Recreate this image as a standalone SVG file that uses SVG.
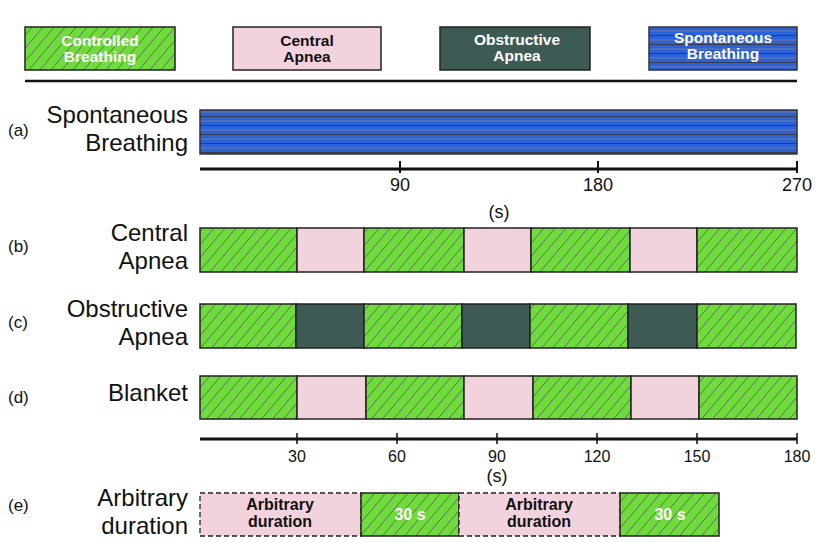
<svg xmlns="http://www.w3.org/2000/svg" width="830" height="542" viewBox="0 0 830 542">
<defs>
<pattern id="hatch" patternUnits="userSpaceOnUse" width="11" height="13">
<rect width="11" height="13" fill="#70db3c"/>
<path d="M0,13 L11,0 M-1,1 L0,0 M11,13 L12,12" stroke="#555" stroke-width="0.8"/>
</pattern>
<pattern id="spont" patternUnits="userSpaceOnUse" width="10" height="9">
<rect width="10" height="9" fill="#2962dc"/>
<line x1="0" y1="4" x2="10" y2="4" stroke="#7a7a88" stroke-width="1"/>
<line x1="0" y1="8.5" x2="10" y2="8.5" stroke="#3a3a48" stroke-width="1"/>
</pattern>
</defs>
<style>
.c{fill:url(#hatch);stroke:#222;stroke-width:1.5}
.p{fill:#f2d3dd;stroke:#222;stroke-width:1.5}
.pd{fill:#f2d3dd;stroke:#222;stroke-width:1.3;stroke-dasharray:5 3}
.o{fill:#3d5a54;stroke:#222;stroke-width:1.5}
.s{fill:url(#spont);stroke:#333;stroke-width:1.5}
.lg{font-family:"Liberation Sans",Arial,sans-serif;font-weight:bold;font-size:15.5px;text-anchor:middle}
.w{fill:#fff}
.k{fill:#111}
.rl{font-family:"Liberation Sans",Arial,sans-serif;font-size:24px;text-anchor:end;fill:#111}
.lt{font-family:"Liberation Sans",Arial,sans-serif;font-size:17px;fill:#111}
.ax{font-family:"Liberation Sans",Arial,sans-serif;font-size:18px;text-anchor:middle;fill:#111}
.ax2{font-family:"Liberation Sans",Arial,sans-serif;font-size:16px;text-anchor:middle;fill:#111}
.ins{font-family:"Liberation Sans",Arial,sans-serif;font-weight:bold;font-size:16px;text-anchor:middle}
</style>

<g id="legend-controlled">
<rect class="c" x="25" y="27" width="150" height="43"/>
<text class="lg w" x="100" y="45.5">Controlled</text>
<text class="lg w" x="100" y="62">Breathing</text>
</g>
<g id="legend-central">
<rect class="p" x="233" y="27" width="148" height="43"/>
<text class="lg k" x="307" y="45.5">Central</text>
<text class="lg k" x="307" y="61.5">Apnea</text>
</g>
<g id="legend-obstructive">
<rect class="o" x="440" y="27" width="150" height="43"/>
<text class="lg w" x="517" y="45">Obstructive</text>
<text class="lg w" x="517" y="61">Apnea</text>
</g>
<g id="legend-spontaneous">
<rect class="s" x="649" y="27" width="148" height="43"/>
<text class="lg w" x="723" y="43">Spontaneous</text>
<text class="lg w" x="723" y="59">Breathing</text>
</g>
<line x1="25" y1="81" x2="797" y2="81" stroke="#111" stroke-width="2.5"/>

<g id="row-a">
<text class="lt" x="8" y="136">(a)</text>
<text class="rl" x="188" y="123">Spontaneous</text>
<text class="rl" x="188" y="151">Breathing</text>
<rect class="s" x="200" y="110" width="597" height="44"/>
</g>
<g id="axis-top">
<line x1="200" y1="169" x2="797" y2="169" stroke="#111" stroke-width="3"/>
<path d="M400,161V173M598,161V173M797,161V173" stroke="#111" stroke-width="2"/>
<text class="ax" x="400" y="191">90</text>
<text class="ax" x="598" y="191">180</text>
<text class="ax" x="797" y="191">270</text>
<text class="ax" x="499" y="218" font-size="19">(s)</text>
</g>

<g id="row-b">
<text class="lt" x="8" y="252">(b)</text>
<text class="rl" x="188" y="241">Central</text>
<text class="rl" x="188" y="269">Apnea</text>
<rect class="c" x="200" y="228" width="97" height="44"/>
<rect class="p" x="297" y="228" width="67" height="44"/>
<rect class="c" x="364" y="228" width="100" height="44"/>
<rect class="p" x="464" y="228" width="67" height="44"/>
<rect class="c" x="531" y="228" width="99" height="44"/>
<rect class="p" x="630" y="228" width="67" height="44"/>
<rect class="c" x="697" y="228" width="100" height="44"/>
</g>

<g id="row-c">
<text class="lt" x="8" y="328">(c)</text>
<text class="rl" x="188" y="317">Obstructive</text>
<text class="rl" x="188" y="345">Apnea</text>
<rect class="c" x="200" y="304" width="96" height="44"/>
<rect class="o" x="296" y="304" width="68" height="44"/>
<rect class="c" x="364" y="304" width="98" height="44"/>
<rect class="o" x="462" y="304" width="68" height="44"/>
<rect class="c" x="530" y="304" width="98" height="44"/>
<rect class="o" x="628" y="304" width="69" height="44"/>
<rect class="c" x="697" y="304" width="99" height="44"/>
</g>

<g id="row-d">
<text class="lt" x="8" y="403">(d)</text>
<text class="rl" x="188" y="401">Blanket</text>
<rect class="c" x="200" y="376" width="97" height="43"/>
<rect class="p" x="297" y="376" width="69" height="43"/>
<rect class="c" x="366" y="376" width="98" height="43"/>
<rect class="p" x="464" y="376" width="69" height="43"/>
<rect class="c" x="533" y="376" width="98" height="43"/>
<rect class="p" x="631" y="376" width="68" height="43"/>
<rect class="c" x="699" y="376" width="98" height="43"/>
</g>

<g id="axis-bottom">
<line x1="200" y1="439" x2="797" y2="439" stroke="#111" stroke-width="3"/>
<path d="M297,433V444M397,433V444M497,433V444M597,433V444M697,433V444M797,433V444" stroke="#111" stroke-width="1.5"/>
<text class="ax2" x="297" y="462">30</text>
<text class="ax2" x="397" y="462">60</text>
<text class="ax2" x="497" y="462">90</text>
<text class="ax2" x="597" y="462">120</text>
<text class="ax2" x="697" y="462">150</text>
<text class="ax2" x="797" y="462">180</text>
<text class="ax" x="497" y="482" font-size="19">(s)</text>
</g>

<g id="row-e">
<text class="lt" x="8" y="511">(e)</text>
<text class="rl" x="188" y="506">Arbitrary</text>
<text class="rl" x="188" y="534">duration</text>
<rect class="pd" x="200" y="493" width="161" height="43"/>
<rect class="c" x="361" y="493" width="98" height="43"/>
<rect class="pd" x="459" y="493" width="161" height="43"/>
<rect class="c" x="620" y="493" width="99" height="43"/>
<text class="ins k" x="280" y="510">Arbitrary</text>
<text class="ins k" x="280" y="527">duration</text>
<text class="ins w" x="410" y="520">30 s</text>
<text class="ins k" x="539" y="510">Arbitrary</text>
<text class="ins k" x="539" y="527">duration</text>
<text class="ins w" x="670" y="520">30 s</text>
</g>
</svg>
